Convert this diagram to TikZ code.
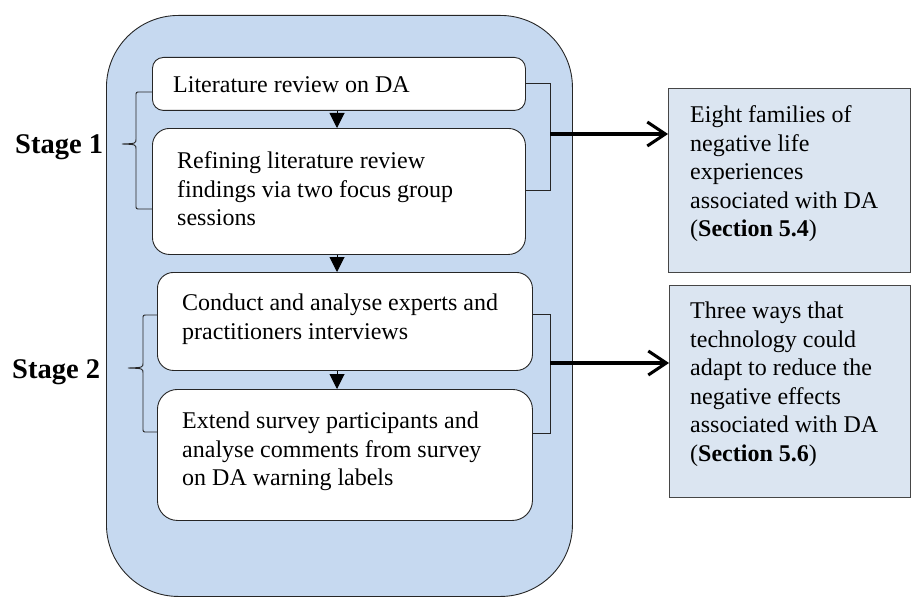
\documentclass[tikz,border=0pt]{standalone}
\usepackage{fontspec}
\setmainfont{Liberation Serif}
\usetikzlibrary{arrows.meta,calc}
\definecolor{panelblue}{RGB}{198,217,240}
\definecolor{resultblue}{RGB}{219,229,241}
\definecolor{resultedge}{RGB}{70,70,70}
\begin{document}
\begin{tikzpicture}[x=1pt,y=-1pt,
  panel/.style={draw=black!85,line width=0.9pt,fill=panelblue,rounded corners=72pt,anchor=north west,inner sep=0pt},
  stepbox/.style={draw=black!85,line width=0.9pt,fill=white,anchor=north west,inner sep=0pt},
  resultbox/.style={draw=resultedge,line width=1.3pt,fill=resultblue,anchor=north west,inner sep=0pt},
  bodytext/.style={anchor=north west,inner sep=0pt,align=left,font=\fontsize{24}{28.5}\selectfont},
  stagelabel/.style={anchor=base west,inner sep=0pt,font=\fontsize{28.5}{32}\selectfont\bfseries},
  flow/.style={line width=1pt,-{Triangle[width=15pt,length=15pt]}},
  bracket/.style={line width=0.9pt,draw=black!85},
  result/.style={line width=3.2pt,-{Straight Barb[length=18pt,width=24pt,line width=3pt]}},
  ]
\useasboundingbox (0,0) rectangle (912,599);

% outer process panel
\node[panel,minimum width=466pt,minimum height=581pt] (outer) at (106,15) {};

% process steps
\node[stepbox,rounded corners=11pt,minimum width=373pt,minimum height=53pt] (b1) at (152,57) {};
\node[stepbox,rounded corners=17pt,minimum width=373pt,minimum height=126pt] (b2) at (152,128) {};
\node[stepbox,rounded corners=16pt,minimum width=375pt,minimum height=98pt] (b3) at (157,272) {};
\node[stepbox,rounded corners=20pt,minimum width=375pt,minimum height=131pt] (b4) at (157,389) {};

\node[bodytext] (t1) at (173,72.4) {\strut Literature review on DA};
\node[bodytext] (t2) at (177,148.4) {\strut Refining literature review\\findings via two focus group\\sessions};
\node[bodytext] (t3) at (182,290.4) {\strut Conduct and analyse experts and\\practitioners interviews};
\node[bodytext] (t4) at (182,408.4) {\strut Extend survey participants and\\analyse comments from survey\\on DA warning labels};

% results
\node[resultbox,minimum width=242pt,minimum height=184pt] (r1) at (668,88) {};
\node[resultbox,minimum width=241pt,minimum height=212pt] (r2) at (669,285) {};
\node[bodytext] (rt1) at (690,102.4) {\strut Eight families of\\negative life\\experiences\\associated with DA\\(\textbf{Section 5.4})};
\node[bodytext] (rt2) at (690,298.4) {\strut Three ways that\\technology could\\adapt to reduce the\\negative effects\\associated with DA\\(\textbf{Section 5.6})};

% stage labels
\node[stagelabel] (s1) at (15,153) {Stage 1};
\node[stagelabel] (s2) at (12,378) {Stage 2};

% flow arrows between steps
\coordinate (ax) at (337,0);
\draw[flow] (b1.south -| ax) -- (b2.north -| ax);
\draw[flow] (b2.south -| ax) -- (b3.north -| ax);
\draw[flow] (b3.south -| ax) -- (b4.north -| ax);

% left braces grouping the stages
\draw[bracket] (b1.west |- 0,92) -- (140,92) .. controls (136,92) .. (136,96) -- (136,139)
  .. controls (136,143.5) .. (122,144) .. controls (136,144.5) .. (136,149) -- (136,205)
  .. controls (136,209) .. (140,209) -- (b2.west |- 0,209);
\draw[bracket] (b3.west |- 0,315) -- (147,315) .. controls (143,315) .. (143,319) -- (143,363)
  .. controls (143,367.5) .. (128,368) .. controls (143,368.5) .. (143,373) -- (143,428)
  .. controls (143,432) .. (147,432) -- (b4.west |- 0,432);

% right brackets feeding the results
\coordinate (k1) at (550,134);
\coordinate (k2) at (550,363);
\draw[bracket] (b1.east) -- (k1 |- b1.east) -- (k1 |- 0,190) -- (b2.east |- 0,190);
\draw[bracket] (b3.east |- 0,314) -- (k2 |- 0,314) -- (k2 |- 0,433) -- (b4.east |- 0,433);
\draw[result] (k1) -- (k1 -| r1.west);
\draw[result] (k2) -- (k2 -| r2.west);
\end{tikzpicture}
\end{document}
